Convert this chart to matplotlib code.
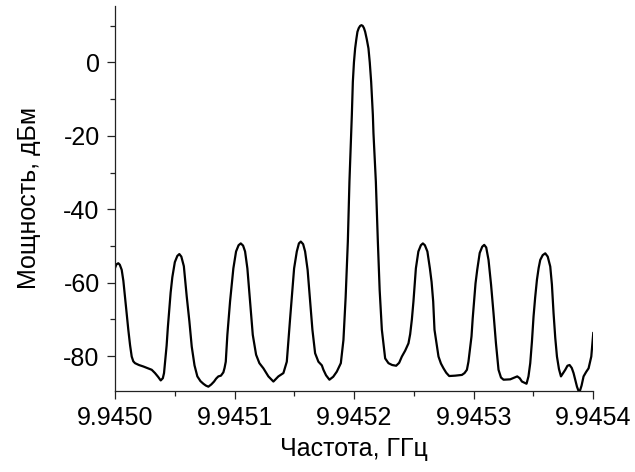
import matplotlib
matplotlib.use('Agg')
import matplotlib.pyplot as plt
from matplotlib.ticker import MultipleLocator, FormatStrFormatter

offset_khz = [
    0.0, 1.2, 2.76, 4.0, 5.61, 7.0, 8.37, 9.8, 11.13, 12.6, 13.97, 15.3, 16.74,
    20.0, 23.68, 27.5, 30.71, 33.47, 36.0, 38.24, 40.0, 41.0,
    43.18, 44.19, 45.19, 46.53, 47.95, 50.04, 52.14, 53.81, 55.48, 57.58, 60.0,
    62.2, 64.18, 66.5, 68.87, 71.5, 73.89, 76.0, 78.08, 80.5, 82.85, 84.6, 86.44,
    88.6, 90.63, 91.63, 92.64, 93.97, 96.23, 98.99, 101.25, 103.35, 105.19,
    107.12, 108.79, 110.71, 112.97, 115.23, 118.0, 120.75, 124.1, 128.28,
    132.47, 136.65, 140.84, 143.68, 146.44, 149.79, 152.05, 153.81, 155.4,
    157.33, 158.99, 161.09, 163.18, 165.1, 167.36, 170.12, 173.0, 174.31,
    176.5, 179.33, 182.5, 185.52, 188.87, 191.05, 192.89, 194.73, 196.07,
    196.91, 197.49, 198.08, 198.92, 199.84, 200.84, 201.84, 202.76, 203.85,
    205.02, 206.11, 207.2, 208.21, 209.21, 210.55, 211.97, 213.06, 214.23,
    215.65, 216.16, 216.99, 218.16, 219.83, 221.34, 223.18, 225.94, 228.7,
    231.8, 235.14, 237.65, 239.91, 242.67, 245.44, 246.86, 248.28, 249.6,
    251.63, 253.72, 255.82, 257.49, 259.16, 261.26, 263.35, 264.77, 266.11,
    267.2, 270.55, 272.6, 274.73, 277.0, 279.5, 284.52, 290.13, 292.3, 294.31,
    295.6, 297.07, 298.16, 299.16, 300.17, 301.51, 302.93, 305.02, 307.12,
    308.79, 310.46, 312.39, 314.5, 316.57, 318.6, 320.75, 322.8, 324.94,
    330.54, 333.5, 336.4, 338.5, 340.33, 344.18, 345.8, 347.28, 348.7, 350.04,
    351.4, 352.88, 354.3, 355.65, 357.7, 359.83, 361.9, 364.02, 365.4, 366.78,
    368.2, 369.62, 371.3, 372.97, 374.8, 376.57, 378.4, 380.17, 382.0, 383.51,
    385.0, 386.36, 388.28, 390.2, 391.88, 394.0, 396.07, 398.33, 400.0,
]
power_dbm = [
    -56.0, -55.0, -54.7, -55.1, -56.5, -59.5, -63.8, -68.5, -72.8, -77.0, -80.1, -81.4, -81.9,
    -82.4, -82.8, -83.3, -83.7, -84.6, -85.6, -86.6, -86.0, -84.6,
    -77.1, -72.2, -68.0, -62.7, -58.5, -54.4, -52.7, -52.2, -52.9, -55.5, -63.8,
    -70.5, -77.4, -82.5, -85.5, -86.8, -87.5, -88.0, -88.3, -87.7, -86.9, -86.1, -85.5,
    -85.3, -84.4, -83.2, -81.5, -74.2, -65.1, -56.1, -51.5, -49.8, -49.3,
    -49.9, -51.5, -56.1, -65.1, -74.2, -79.6, -81.9, -83.3, -85.5,
    -86.9, -85.5, -84.6, -81.5, -69.8, -56.1, -51.5, -49.3, -48.8,
    -49.5, -51.5, -56.5, -65.0, -72.8, -79.2, -81.5, -82.5, -83.7,
    -85.2, -86.4, -85.6, -84.2, -81.9, -75.6, -64.0, -48.8, -32.5,
    -25.0, -19.3, -14.3, -5.3, 0.0, 3.8, 6.3, 8.3, 9.3,
    9.9, 10.1, 9.9, 9.3, 8.3, 6.3, 3.8, 0.0, -5.3,
    -14.3, -19.3, -25.0, -32.5, -48.8, -62.0, -72.8, -80.6, -81.9,
    -82.4, -82.6, -81.8, -80.1, -78.5, -76.5, -74.0, -70.0, -65.1,
    -56.1, -51.5, -49.8, -49.3, -49.8, -51.5, -56.1, -59.8, -65.1,
    -72.8, -80.1, -82.0, -83.3, -84.5, -85.4, -85.3, -85.1, -84.6, -83.7,
    -81.5, -77.4, -74.6, -69.7, -65.5, -60.2, -56.5, -51.9, -50.2,
    -49.7, -50.4, -53.8, -60.5, -68.3, -76.5, -83.7, -85.8, -86.4,
    -86.3, -85.9, -85.5, -86.0, -86.9, -87.5, -85.5, -81.9, -76.0, -69.2,
    -64.0, -59.2, -56.0, -53.8, -52.5, -52.0, -52.9, -55.6, -60.5, -68.3,
    -75.0, -80.1, -83.5, -85.5, -84.6, -83.7, -82.6, -82.4, -83.2, -84.6,
    -86.5, -88.3, -90.0, -88.0, -85.5, -84.3, -83.3, -80.1, -73.7,
]

freq_ghz = [9.945 + k * 1e-6 for k in offset_khz]

plt.rcParams['font.family'] = ['Liberation Sans', 'DejaVu Sans']
plt.rcParams['axes.unicode_minus'] = False

fig = plt.figure(figsize=(6.35, 4.72), dpi=100)
ax = fig.add_axes([0.1811, 0.1722, 0.7532, 0.8157])
ax.plot(freq_ghz, power_dbm, color='black', linewidth=1.6, solid_joinstyle='round')

ax.set_xlim(9.9450, 9.9454)
ax.set_ylim(-89.4, 15.4)

ax.xaxis.set_major_locator(MultipleLocator(0.0001))
ax.xaxis.set_minor_locator(MultipleLocator(0.00005))
ax.xaxis.set_major_formatter(FormatStrFormatter('%.4f'))
ax.yaxis.set_major_locator(MultipleLocator(20))
ax.yaxis.set_minor_locator(MultipleLocator(10))

for side in ['top', 'right']:
    ax.spines[side].set_visible(False)
for side in ['left', 'bottom']:
    ax.spines[side].set_linewidth(0.9)
    ax.spines[side].set_color('#222222')

ax.tick_params(which='major', direction='out', length=6, width=0.9, labelsize=18, pad=5, color='#222222')
ax.tick_params(which='minor', direction='out', length=3.5, width=0.9, color='#222222')

ax.set_xlabel('Частота, ГГц', fontsize=18, labelpad=5)
ax.set_ylabel('Мощность, дБм', fontsize=18, labelpad=16)

fig.savefig('out.png', dpi=100)
